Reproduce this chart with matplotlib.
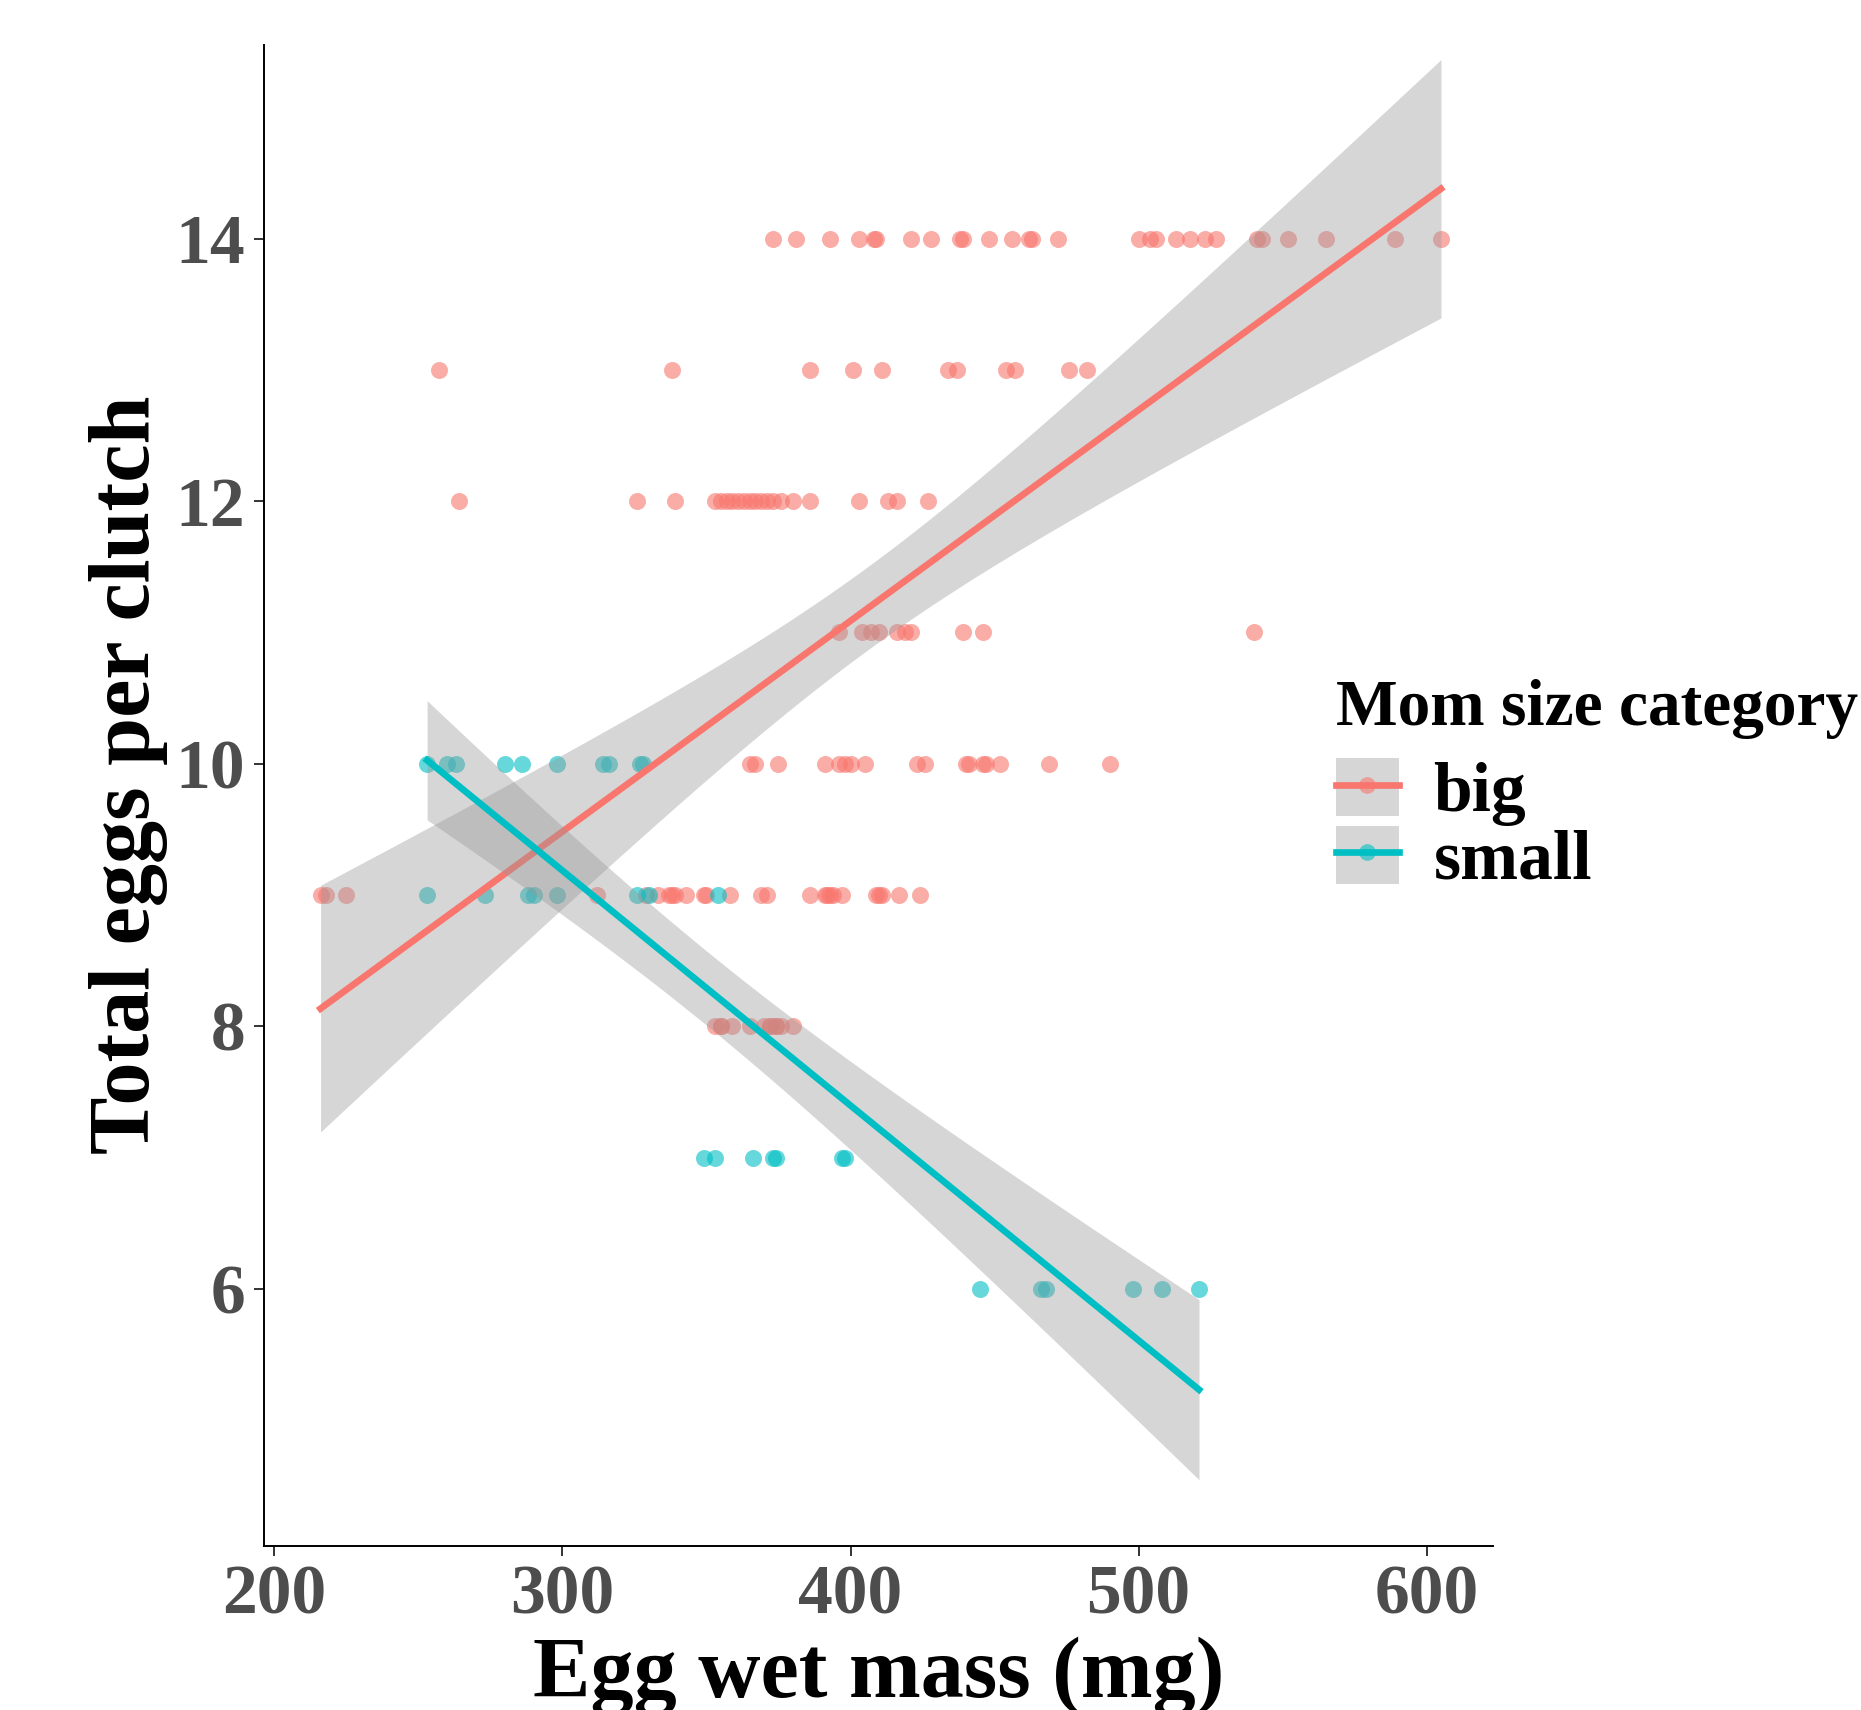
import numpy as np
import matplotlib
matplotlib.use("Agg")
import matplotlib.pyplot as plt
from matplotlib.lines import Line2D
from matplotlib.patches import Patch
from matplotlib.legend_handler import HandlerTuple

plt.rcParams['font.family'] = ['Liberation Serif', 'DejaVu Serif']
plt.rcParams['font.weight'] = 'bold'

# egg wet mass (mg) per clutch size
# (overlapping marks that look darker are entered twice)
big_14 = [373, 381, 393, 403, 408, 409, 421, 428, 438, 439, 448, 456, 462, 463, 472,
          500, 504, 506, 513, 518, 523, 527, 541, 543, 552, 565, 589, 605]
big_13 = [257, 338, 386, 401, 411, 434, 437, 454, 457, 476, 482]
big_12 = [264, 326, 339, 353, 355, 357, 359, 361, 363, 365, 367, 369, 371, 373, 376,
          380, 386, 403, 413, 416, 427]
big_11 = [396, 404, 407, 410, 416, 419, 421, 439, 446, 540]
big_10 = [365, 367, 375, 391, 396, 398, 400, 405, 423, 426, 440, 441, 446, 447,
          452, 469, 490]
big_9 = [216, 218, 225, 312, 329, 333, 337, 338, 339, 343, 349, 350, 358, 369, 371, 386,
         391, 392, 393, 394, 397, 409, 410, 411, 417, 424]
big_8 = [353, 355, 355, 359, 365, 370, 372, 372, 374, 374, 376, 380]

small_10 = [253, 260, 263, 280, 286, 298, 314, 316, 327, 328]
small_9 = [253, 273, 288, 290, 298, 326, 330, 354]
small_7 = [349, 353, 366, 373, 374, 397, 398]
small_6 = [445, 466, 468, 498, 508, 521]

groups = ['big', 'small']
colors = {'big': '#F8766D', 'small': '#00BFC4'}


def _stack(rows):
    x, y = [], []
    for eggs, masses in rows:
        x += masses
        y += [eggs] * len(masses)
    return np.array(x, float), np.array(y, float)


data = {
    'big': _stack([(14, big_14), (13, big_13), (12, big_12), (11, big_11),
                   (10, big_10), (9, big_9), (8, big_8)]),
    'small': _stack([(10, small_10), (9, small_9), (7, small_7), (6, small_6)]),
}


def _t975(df):
    # Cornish-Fisher expansion of the t quantile
    z = 1.959964
    return z + (z**3 + z) / (4 * df) + (5 * z**5 + 16 * z**3 + 3 * z) / (96 * df**2)


def _lm_smooth(x, y, n=80):
    # same as geom_smooth(method = "lm"): fit + 95% confidence band
    b, a = np.polyfit(x, y, 1)
    xs = np.linspace(x.min(), x.max(), n)
    fit = a + b * xs
    resid = y - (a + b * x)
    dof = len(x) - 2
    s = np.sqrt((resid**2).sum() / dof)
    sxx = ((x - x.mean())**2).sum()
    se = s * np.sqrt(1 / len(x) + (xs - x.mean())**2 / sxx)
    w = _t975(dof) * se
    return xs, fit, fit - w, fit + w


fig = plt.figure(figsize=(18.61, 17.10), dpi=100)
ax = fig.add_axes([0.1416, 0.0959, 0.8023 - 0.1416, 0.9737 - 0.0959])

for g in groups:
    x, y = data[g]
    ax.scatter(x, y, s=150, color=colors[g], alpha=0.6, linewidths=0, zorder=2)

z = 3
for g in groups:
    x, y = data[g]
    xs, fit, lo, hi = _lm_smooth(x, y)
    ax.fill_between(xs, lo, hi, color='#999999', alpha=0.4, linewidth=0, zorder=z)
    ax.plot(xs, fit, color=colors[g], lw=4.8, zorder=z + 0.5)
    z += 1

ax.set_xlim(196.2, 623.1)
ax.set_ylim(4.043, 15.474)
ax.set_xticks([200, 300, 400, 500, 600])
ax.set_yticks([6, 8, 10, 12, 14])

for side in ['top', 'right']:
    ax.spines[side].set_visible(False)
for side in ['left', 'bottom']:
    ax.spines[side].set_linewidth(1.4)
    ax.spines[side].set_color('black')

ax.tick_params(axis='both', length=7, width=1.4, color='#333333',
               labelsize=50, labelcolor='#4D4D4D', pad=6)
for lab in ax.get_xticklabels() + ax.get_yticklabels():
    lab.set_fontweight('bold')

ax.set_xlabel('Egg wet mass (mg)', fontsize=62, fontweight='bold', labelpad=6)
ax.set_ylabel('Total eggs per clutch', fontsize=62, fontweight='bold')
ax.yaxis.set_label_coords(-0.078, 0.514)

handles = []
for g in groups:
    bg = Patch(facecolor='#D6D6D6', edgecolor='none')
    pt = Line2D([], [], marker='o', ls='none', color=colors[g], alpha=0.6,
                markersize=12, markeredgewidth=0)
    ln = Line2D([], [], color=colors[g], lw=4.8)
    handles.append((bg, pt, ln))

leg = ax.legend(handles, groups, handler_map={tuple: HandlerTuple(ndivide=1, pad=0)},
                loc='upper left', bbox_to_anchor=(0.718, 0.603),
                bbox_transform=fig.transFigure, frameon=False,
                title='Mom size category',
                prop={'family': 'Liberation Serif', 'weight': 'bold', 'size': 50},
                handlelength=0.9, handleheight=0.9, labelspacing=0,
                handletextpad=0.5, borderaxespad=0, borderpad=0)
leg.get_title().set_fontsize(47)
leg.get_title().set_fontweight('bold')
leg._legend_box.align = 'left'
leg._legend_box.sep = 14

fig.savefig('out.png', dpi=100)
